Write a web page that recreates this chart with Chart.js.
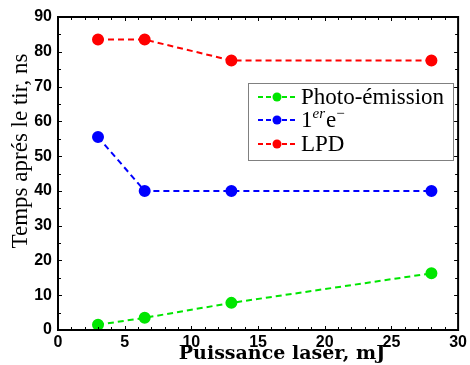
<!DOCTYPE html>
<html>
<head>
<meta charset="utf-8">
<script src="https://cdn.jsdelivr.net/npm/chart.js@4.4.1/dist/chart.umd.min.js"></script>
<style>
  html, body { margin: 0; padding: 0; background: #fff; }
  #wrap { width: 470px; height: 365px; position: relative; }
</style>
</head>
<body>
<div id="wrap"><canvas id="chart"></canvas></div>
<script>
// Data
const puissance = [3, 6.5, 13, 28];
const photoEmission = [1.5, 3.5, 7.8, 16.3];
const premierElectron = [55.5, 40, 40, 40];
const lpd = [83.5, 83.5, 77.5, 77.5];

const xTicks = [0, 5, 10, 15, 20, 25, 30];
const yTicks = [0, 10, 20, 30, 40, 50, 60, 70, 80, 90];

const colors = {
    green: '#00e600',
    blue: '#0000ff',
    red: '#ff0000',
    axis: '#000000'
};

const seriesDefs = [
    { label: 'Photo-émission', values: photoEmission, color: colors.green },
    { label: '1er e−', values: premierElectron, color: colors.blue },
    { label: 'LPD', values: lpd, color: colors.red }
];

function toPoints(values) {
    return puissance.map((x, i) => ({ x: x, y: values[i] }));
}

// Frame + inward ticks on all four sides, axis titles
const framePlugin = {
    id: 'frame',
    afterDraw(chart) {
        const { ctx, chartArea: a, scales } = chart;
        const xs = scales.x, ys = scales.y;
        ctx.save();
        ctx.strokeStyle = colors.axis;
        ctx.lineWidth = 1;
        ctx.beginPath();
        for (let v = 0; v <= 30; v += 1) {
            const px = Math.round(xs.getPixelForValue(v)) + 0.5;
            const len = v % 5 === 0 ? 4 : 3;
            ctx.moveTo(px, a.bottom); ctx.lineTo(px, a.bottom - len);
            ctx.moveTo(px, a.top); ctx.lineTo(px, a.top + len);
        }
        for (let v = 0; v <= 90; v += 5) {
            const py = Math.round(ys.getPixelForValue(v)) + 0.5;
            const len = v % 10 === 0 ? 4 : 3;
            ctx.moveTo(a.left, py); ctx.lineTo(a.left + len, py);
            ctx.moveTo(a.right, py); ctx.lineTo(a.right - len, py);
        }
        ctx.stroke();
        ctx.lineWidth = 2;
        ctx.strokeRect(a.left, a.top, a.right - a.left, a.bottom - a.top);

        // axis titles
        ctx.fillStyle = '#000';
        ctx.textAlign = 'center';
        ctx.textBaseline = 'middle';
        ctx.font = 'bold 19px "DejaVu Serif"';
        ctx.fillText('Puissance laser, mJ', 282, 354);
        ctx.save();
        ctx.translate(21, 151);
        ctx.rotate(-Math.PI / 2);
        ctx.font = '23px "Liberation Serif"';
        ctx.fillText('Temps aprés le tir, ns', 0, 0);
        ctx.restore();
        ctx.restore();
    }
};

// MATLAB-like legend box with dashed line + marker samples
const legendPlugin = {
    id: 'matLegend',
    afterDraw(chart) {
        const { ctx } = chart;
        const box = { x: 248, y: 83, w: 205, h: 77 };
        ctx.save();
        ctx.fillStyle = '#fff';
        ctx.fillRect(box.x, box.y, box.w, box.h);
        ctx.strokeStyle = '#808080';
        ctx.lineWidth = 1;
        ctx.strokeRect(box.x + 0.5, box.y + 0.5, box.w, box.h);

        const rows = [97, 120, 144];
        seriesDefs.forEach((s, i) => {
            const y = rows[i];
            ctx.strokeStyle = s.color;
            ctx.lineWidth = 2;
            ctx.setLineDash([5, 3]);
            ctx.beginPath();
            ctx.moveTo(258, y); ctx.lineTo(297, y);
            ctx.stroke();
            ctx.setLineDash([]);
            ctx.fillStyle = s.color;
            ctx.beginPath();
            ctx.arc(277, y, 4.5, 0, Math.PI * 2);
            ctx.fill();

            ctx.fillStyle = '#000';
            ctx.textAlign = 'left';
            ctx.textBaseline = 'alphabetic';
            const base = y + 7;
            let tx = 301;
            if (i === 1) {
                ctx.font = '23px "Liberation Serif"';
                ctx.fillText('1', tx, base); tx += ctx.measureText('1').width;
                ctx.font = 'italic 15px "Liberation Serif"';
                ctx.fillText('er', tx, base - 9); tx += ctx.measureText('er').width + 1;
                ctx.font = '23px "Liberation Serif"';
                ctx.fillText('e', tx, base); tx += ctx.measureText('e').width;
                ctx.font = '15px "Liberation Serif"';
                ctx.fillText('−', tx, base - 9);
            } else {
                ctx.font = '23px "Liberation Serif"';
                ctx.fillText(s.label, tx, base);
            }
        });
        ctx.restore();
    }
};

const tickFont = { family: '"Liberation Sans", Arial, sans-serif', size: 16, weight: 'bold' };

new Chart(document.getElementById('chart'), {
    type: 'line',
    data: {
        datasets: seriesDefs.map(s => ({
            label: s.label,
            data: toPoints(s.values),
            borderColor: s.color,
            backgroundColor: s.color,
            pointBackgroundColor: s.color,
            pointBorderColor: s.color,
            borderWidth: 2,
            borderDash: [6, 4],
            pointRadius: 5,
            pointHoverRadius: 5,
            tension: 0,
            fill: false
        }))
    },
    options: {
        responsive: true,
        maintainAspectRatio: false,
        animation: false,
        layout: { padding: { top: 17, right: 10, left: 0, bottom: 0 } },
        plugins: {
            legend: { display: false },
            tooltip: { enabled: false }
        },
        scales: {
            x: {
                type: 'linear',
                min: 0,
                max: 30,
                afterFit: s => { s.height = 35; },
                afterBuildTicks: s => { s.ticks = xTicks.map(v => ({ value: v })); },
                grid: { display: false, drawTicks: false },
                border: { display: false },
                ticks: { color: '#000', font: tickFont, padding: 3, maxRotation: 0 }
            },
            y: {
                type: 'linear',
                min: 0,
                max: 90,
                afterFit: s => { s.width = 58; },
                afterBuildTicks: s => { s.ticks = yTicks.map(v => ({ value: v })); },
                grid: { display: false, drawTicks: false },
                border: { display: false },
                ticks: { color: '#000', font: tickFont, padding: 6 }
            }
        }
    },
    plugins: [framePlugin, legendPlugin]
});
</script>
</body>
</html>
